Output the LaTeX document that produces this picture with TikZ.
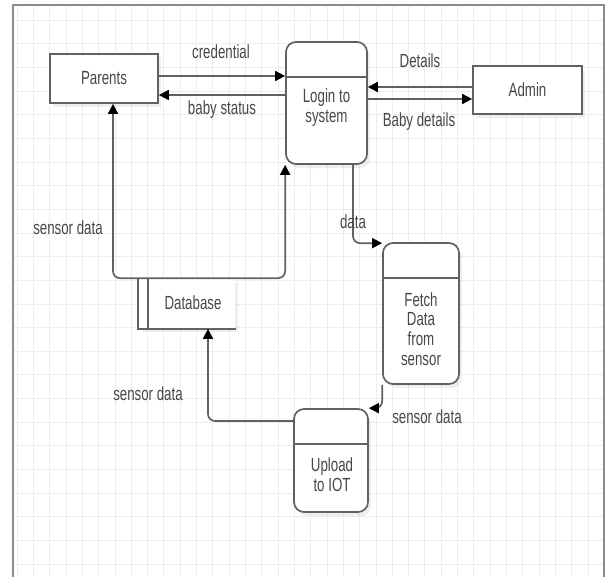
\documentclass[tikz,border=0pt]{standalone}
\usepackage{fontspec}
\setmainfont{Liberation Sans}[FakeStretch=0.70]
\usetikzlibrary{arrows.meta,shadows}

\begin{document}
\begin{tikzpicture}[x=1pt,y=-1pt,line width=1.7pt,
  >={Triangle[length=10pt,width=10pt,color=black]},
  txt/.style={text=black!72,font=\fontsize{19}{19.7}\selectfont,align=center,inner sep=0pt},
  gridline/.style={draw=black!7,line width=0.6pt},
  boxshadow/.style={drop shadow={shadow xshift=3pt,shadow yshift=-4pt,opacity=0.12}},
  entity/.style={txt,draw=black!62,fill=white,boxshadow},
  proc/.style={draw=black!62,fill=white,rounded corners=10pt,boxshadow},
  divider/.style={draw=black!62},
  flow/.style={draw=black!62,rounded corners=7pt}]
% Bildausschnitt (Pixelkoordinaten, y nach unten)
\clip (0,0) rectangle (607,576);
\fill[white] (0,0) rectangle (607,576);
% Hintergrundraster
\foreach \k in {0,...,35}{
  \pgfmathsetmacro\gx{17+16.31*\k}
  \draw[gridline] (\gx,6) -- (\gx,576);
}
\foreach \k in {0,...,23}{
  \pgfmathsetmacro\gy{20+23.65*\k}
  \draw[gridline] (14,\gy) -- (603,\gy);
}
% Rahmen
\draw[draw=black!45,line width=2.4pt] (13,590) -- (13,5) -- (604,5) -- (604,590);
% Externe Einheiten
\node[entity,minimum width=108pt,minimum height=49pt] (parents) at (104,78.5) {Parents};
\node[entity,minimum width=109pt,minimum height=48pt] (admin) at (527.5,90) {Admin};
% Prozesse
\node[proc,minimum width=81pt,minimum height=122pt] (login) at (326.5,103) {};
\draw[divider] (login.west |- 0,77) -- (login.east |- 0,77);
\node[txt] (logintxt) at (326.5,107.5) {Login to\\system};
\node[proc,minimum width=76pt,minimum height=141pt] (fetch) at (421,313.5) {};
\draw[divider] (fetch.west |- 0,278) -- (fetch.east |- 0,278);
\node[txt] (fetchtxt) at (421,329) {Fetch\\Data\\from\\sensor};
\node[proc,minimum width=74pt,minimum height=103pt] (upload) at (331,460.5) {};
\draw[divider] (upload.west |- 0,444) -- (upload.east |- 0,444);
\node[txt] (uploadtxt) at (332,475) {Upload\\to IOT};
% Datenspeicher
\node[fill=white,boxshadow,minimum width=96pt,minimum height=49pt] (database) at (187,303.5) {};
\draw[divider] (database.north west) -- (database.south west) -- (database.south east);
\draw[divider] ([xshift=10pt]database.north west) -- ([xshift=10pt]database.south west);
\node[txt] (dbtxt) at (193,303) {Database};
% Datenfluesse
\draw[flow,->] (parents.east |- 0,76) -- (login.west |- 0,76);
\draw[flow,->] (login.west |- 0,95) -- (parents.east |- 0,95);
\draw[flow,->] (admin.west |- 0,87) -- (login.east |- 0,87);
\draw[flow,->] (login.east |- 0,99) -- (admin.west |- 0,99);
\draw[flow,<->] ([xshift=9pt]parents.south) |- (database.north) -| (login.south west);
\draw[flow,->] ([xshift=26.5pt]login.south) |- ([yshift=-1pt]fetch.north west);
\draw[flow,->] (fetch.south west) |- (upload.north east);
\draw[flow,->] (upload.west |- 0,421) -| ([xshift=21pt]database.south);
% Beschriftungen
\node[txt] (lcred) at (221,52) {credential};
\node[txt] (lstatus) at (222,110) {baby status};
\node[txt] (ldetails) at (420,61) {Details};
\node[txt] (lbaby) at (419,122) {Baby details};
\node[txt] (lsensora) at (68,228) {sensor data};
\node[txt] (ldata) at (353,222) {data};
\node[txt] (lsensorb) at (148,394) {sensor data};
\node[txt] (lsensorc) at (427,417) {sensor data};
\end{tikzpicture}
\end{document}
